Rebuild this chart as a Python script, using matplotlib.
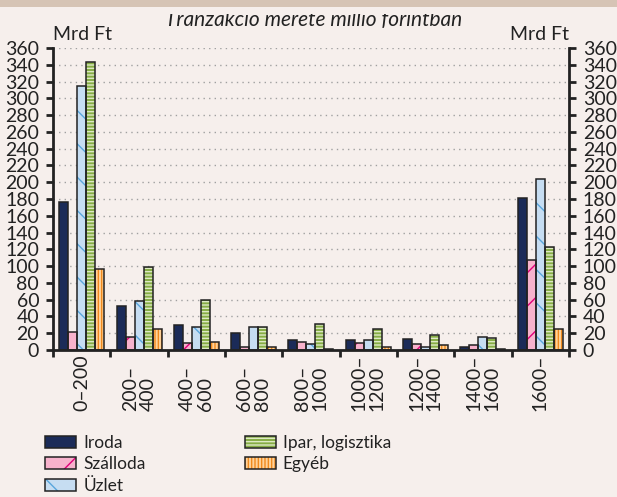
import numpy as np
import matplotlib
matplotlib.use("Agg")
import matplotlib.pyplot as plt
from matplotlib.patches import Patch, Rectangle
from matplotlib.legend_handler import HandlerTuple

plt.rcParams['font.family'] = ['Lato', 'DejaVu Sans']
plt.rcParams['hatch.linewidth'] = 1.0

# data (billion HUF)
groups = ["0–200", "200–\n400", "400–\n600", "600–\n800", "800–\n1000",
          "1000–\n1200", "1200–\n1400", "1400–\n1600", "1600–"]
iroda = [176, 53, 30, 20, 12, 12, 13, 4, 181]
szalloda = [22, 15, 8, 3, 10, 8, 7, 6, 107]
uzlet = [315, 58, 28, 28, 7, 12, 4, 16, 204]
ipar = [343, 99, 60, 28, 31, 25, 18, 14, 123]
egyeb = [96, 25, 10, 3, 1, 3, 6, 1, 25]

series_names = ["Iroda", "Szálloda", "Üzlet", "Ipar, logisztika", "Egyéb"]
series_vals = [iroda, szalloda, uzlet, ipar, egyeb]
fills = ["#1b2b58", "#f7b2cc", "#c6ddf2", "#86ad45", "#ffd29a"]
hatch_cols = ["#1b2b58", "#e0007a", "#5aa6dc", "#dde9c4", "#f08a1e"]
hatches = [None, "/", "\\", "-----", "|||||"]

yticks = np.arange(0, 361, 20)

bg = "#f6efec"
fig = plt.figure(figsize=(6.17, 4.97), dpi=100, facecolor=bg)
ax = fig.add_axes([0.086, 0.2958, 0.836, 0.6076], facecolor=bg)

x = np.arange(len(groups))
w = 0.157
for i, (vals, fc, hc, h) in enumerate(zip(series_vals, fills, hatch_cols, hatches)):
    pos = x + (i - 2) * w
    ax.bar(pos, vals, w, color=fc, edgecolor=hc, hatch=h, linewidth=0, zorder=2)
    ax.bar(pos, vals, w, fill=False, edgecolor="#222222", linewidth=1.1, zorder=3)

ax.set_xlim(-0.5, len(groups) - 0.5)
ax.set_ylim(0, 360)
ax.set_yticks(yticks)
ax.set_xticks(np.arange(-0.5, len(groups), 1.0))
ax.set_xticklabels([])
ax.yaxis.grid(True, linestyle=(0, (1, 3)), color="#a0a0a0", linewidth=1)
ax.set_axisbelow(True)

ax.tick_params(axis="y", which="both", left=True, right=True, labelleft=True,
               labelright=True, direction="out", length=5, width=2, pad=5,
               labelsize=14, colors="#222222")
ax.tick_params(axis="x", direction="out", length=5, width=2, color="#222222")
for s in ["left", "right", "bottom"]:
    ax.spines[s].set_linewidth(2)
    ax.spines[s].set_color("#222222")
ax.spines["top"].set_visible(False)

# category labels, rotated, bottom aligned
for xi, lab in zip(x, groups):
    ax.text(xi, -0.202, lab, rotation=90, ha="center", va="bottom",
            multialignment="left", fontsize=14, linespacing=1.05,
            color="#222222", transform=ax.get_xaxis_transform())

ax.text(0, 1.016, "Mrd Ft", ha="left", va="bottom", fontsize=14,
        color="#222222", transform=ax.transAxes)
ax.text(1, 1.016, "Mrd Ft", ha="right", va="bottom", fontsize=14,
        color="#222222", transform=ax.transAxes)

# title sits partly under the top strip, so its top is cut off
fig.text(0.508, 1 - 25.5 / 497, "Tranzakció mérete millió forintban", ha="center",
         va="baseline", fontsize=15, style="italic", color="#222222", zorder=1)
fig.patches.append(Rectangle((0, 1 - 14 / 497), 1, 14 / 497, transform=fig.transFigure,
                             facecolor=bg, edgecolor="none", zorder=9))
fig.patches.append(Rectangle((0, 1 - 7 / 497), 1, 7 / 497, transform=fig.transFigure,
                             facecolor="#d6c4b5", edgecolor="none", zorder=10))

handles = []
for fc, hc, h in zip(fills, hatch_cols, hatches):
    p1 = Patch(facecolor=fc, edgecolor=hc, hatch=h, linewidth=0)
    p2 = Patch(fill=False, edgecolor="#222222", linewidth=1.1)
    handles.append((p1, p2))
fig.legend(handles, series_names, handler_map={tuple: HandlerTuple(ndivide=1, pad=0)},
           loc="upper left", bbox_to_anchor=(0.073, 0.125), ncol=2, frameon=False,
           fontsize=12.5, handlelength=1.8, handleheight=0.7, handletextpad=0.4,
           columnspacing=5.7, labelspacing=0.32, borderpad=0, borderaxespad=0,
           labelcolor="#222222")

fig.savefig("out.png", dpi=100, facecolor=bg)
